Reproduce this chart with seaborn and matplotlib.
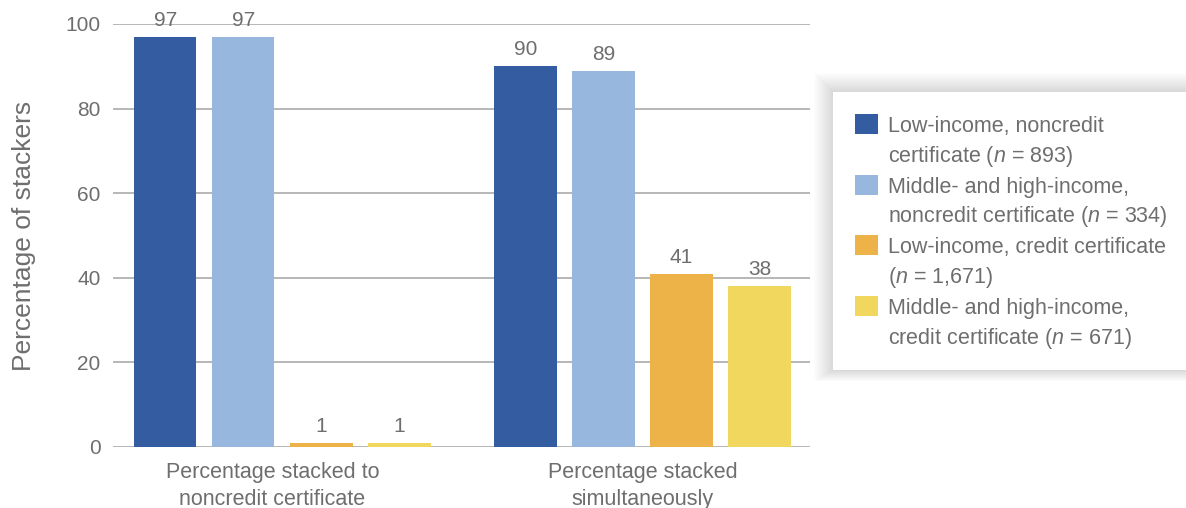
import matplotlib
matplotlib.use("Agg")
import matplotlib.pyplot as plt
import matplotlib.patches as mpatches
from matplotlib.legend_handler import HandlerPatch
from matplotlib.transforms import ScaledTranslation
import pandas as pd
import seaborn as sns

# Data
categories = ["Percentage stacked to\nnoncredit certificate", "Percentage stacked\nsimultaneously"]
groups = [
    "Low-income, noncredit\ncertificate ($n$ = 893)",
    "Middle- and high-income,\nnoncredit certificate ($n$ = 334)",
    "Low-income, credit certificate\n($n$ = 1,671)",
    "Middle- and high-income,\ncredit certificate ($n$ = 671)",
]
low_noncredit = [97, 90]
midhigh_noncredit = [97, 89]
low_credit = [1, 41]
midhigh_credit = [1, 38]
colors = ["#335DA0", "#98B7DE", "#EDB248", "#F1D75E"]
y_ticks = [0, 20, 40, 60, 80, 100]

series = [low_noncredit, midhigh_noncredit, low_credit, midhigh_credit]
df = pd.DataFrame(
    [(cat, grp, vals[i]) for grp, vals in zip(groups, series) for i, cat in enumerate(categories)],
    columns=["category", "group", "value"],
)

sns.set_theme(style="white")
plt.rcParams["font.family"] = ["Liberation Sans", "DejaVu Sans"]
plt.rcParams["mathtext.fontset"] = "custom"
plt.rcParams["mathtext.it"] = "Liberation Sans:italic"
plt.rcParams["mathtext.rm"] = "Liberation Sans"

TXT = "#6e6e6e"
W, H = 1186, 508
fig = plt.figure(figsize=(W / 100, H / 100), dpi=100)
ax = fig.add_axes([113 / W, 1 - 447 / H, (810 - 113) / W, (447 - 24) / H])

sns.barplot(
    data=df, x="category", y="value", hue="group", hue_order=groups,
    palette=colors, saturation=1, width=0.867, gap=0.2, ax=ax, legend=False,
    linewidth=0,
)

ax.set_xlim(-0.47, 1.465)
ax.set_ylim(0, 100)
ax.set_yticks(y_ticks)
for s in ax.spines.values():
    s.set_visible(False)
ax.yaxis.grid(True, color="#a3a3a3", lw=1.1)
ax.set_axisbelow(True)
ax.tick_params(axis="both", length=0, labelsize=15, colors=TXT)
ax.tick_params(axis="y", pad=9)
ax.tick_params(axis="x", pad=11, labelsize=15.5)
xlabels = ax.get_xticklabels()
for lbl in xlabels:
    lbl.set_linespacing(1.35)
# the first category caption sits slightly left of its bar group
xlabels[0].set_transform(xlabels[0].get_transform() + ScaledTranslation(-0.10, 0, fig.dpi_scale_trans))
ax.set_xlabel("")
ax.set_ylabel("Percentage of stackers", fontsize=19, color=TXT, labelpad=21)

for cont in ax.containers:
    ax.bar_label(cont, fmt="{:.0f}", padding=5, fontsize=15, color=TXT, clip_on=False)

# Legend panel with a soft shadow
box_l, box_t, box_b, box_r = 833, 92, 370, 1200
for k in range(1, 20):
    fig.patches.append(mpatches.Rectangle(
        ((box_l - k) / W, 1 - (box_b + k * 0.6) / H),
        (box_r - box_l + 2 * k) / W, (box_b - box_t + 2 * k * 0.8) / H,
        transform=fig.transFigure, facecolor="black", edgecolor="none",
        alpha=0.008, zorder=5))
fig.patches.append(mpatches.Rectangle(
    (box_l / W, 1 - box_b / H), (box_r - box_l) / W, (box_b - box_t) / H,
    transform=fig.transFigure, facecolor="white", edgecolor="none", zorder=6))


def top_square(legend, orig_handle, xdescent, ydescent, width, height, fontsize):
    return mpatches.Rectangle((-xdescent, -ydescent + 0.88 * fontsize), width, height)


handles = [mpatches.Patch(facecolor=c, edgecolor="none") for c in colors]
leg = fig.legend(
    handles, groups, loc="upper left", bbox_to_anchor=(840 / W, 1 - 101 / H),
    frameon=False, fontsize=15.5, labelcolor=TXT,
    handlelength=1.05, handleheight=1.05, handletextpad=0.48, labelspacing=0.36,
    borderpad=0.2, handler_map={mpatches.Patch: HandlerPatch(patch_func=top_square)},
)
leg.set_zorder(7)
for t in leg.get_texts():
    t.set_linespacing(1.38)

fig.savefig("out.png", dpi=100)
